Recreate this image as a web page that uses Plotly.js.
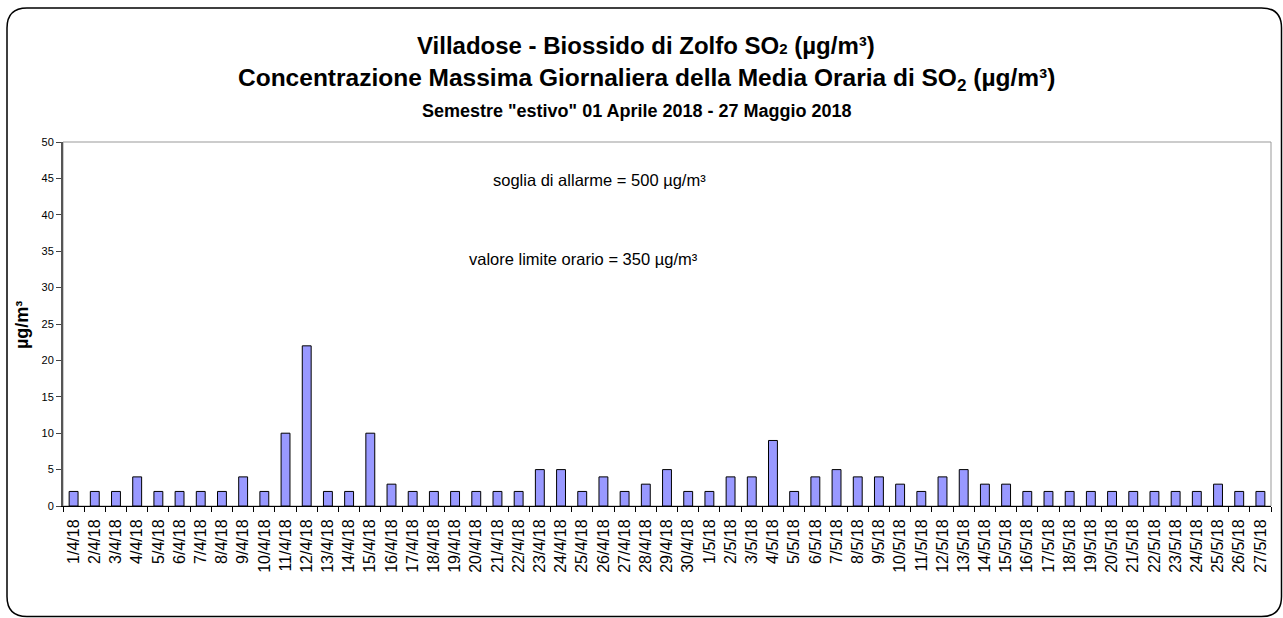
<!DOCTYPE html>
<html>
<head>
<meta charset="utf-8">
<script src="https://cdn.plot.ly/plotly-3.0.1.min.js"></script>
<style>
  html, body { margin: 0; padding: 0; background: #ffffff; }
  #chart { width: 1283px; height: 618px; }
</style>
</head>
<body>
<div id="chart"></div>
<script>
// ---- data ----
const days = [
  "1/4/18","2/4/18","3/4/18","4/4/18","5/4/18","6/4/18","7/4/18","8/4/18","9/4/18","10/4/18",
  "11/4/18","12/4/18","13/4/18","14/4/18","15/4/18","16/4/18","17/4/18","18/4/18","19/4/18","20/4/18",
  "21/4/18","22/4/18","23/4/18","24/4/18","25/4/18","26/4/18","27/4/18","28/4/18","29/4/18","30/4/18",
  "1/5/18","2/5/18","3/5/18","4/5/18","5/5/18","6/5/18","7/5/18","8/5/18","9/5/18","10/5/18",
  "11/5/18","12/5/18","13/5/18","14/5/18","15/5/18","16/5/18","17/5/18","18/5/18","19/5/18","20/5/18",
  "21/5/18","22/5/18","23/5/18","24/5/18","25/5/18","26/5/18","27/5/18"
];
const so2Max = [
  2,2,2,4,2,2,2,2,4,2,
  10,22,2,2,10,3,2,2,2,2,
  2,2,5,5,2,4,2,3,5,2,
  2,4,4,9,2,4,5,4,4,3,
  2,4,5,3,3,2,2,2,2,2,
  2,2,2,2,3,2,2
];
const yTicks = [0,5,10,15,20,25,30,35,40,45,50];
const titleLine1 = "Villadose - Biossido di Zolfo SO<span style='font-size:15px'>2</span> (µg/m³)";
const titleLine2 = "Concentrazione Massima Giornaliera della Media Oraria di SO<sub>2</sub> (µg/m³)";
const titleLine3 = "Semestre \"estivo\" 01 Aprile 2018 - 27 Maggio 2018";
const noteAlarm = "soglia di allarme = 500 µg/m³";
const noteLimit = "valore limite orario = 350 µg/m³";
const yTitle = "µg/m³";

// ---- layout geometry (pixels) ----
const W = 1283, H = 618;
const M = {l: 63, r: 12, t: 142, b: 112};
const PW = W - M.l - M.r, PH = H - M.t - M.b;
const px = x => (x - M.l) / PW;
const py = y => (H - M.b - y) / PH;

function roundRectPath(x0, y0, x1, y1, r) {
  const X = v => px(v), Y = v => py(v);
  return `M ${X(x0 + r)} ${Y(y0)} L ${X(x1 - r)} ${Y(y0)} Q ${X(x1)} ${Y(y0)} ${X(x1)} ${Y(y0 + r)} ` +
         `L ${X(x1)} ${Y(y1 - r)} Q ${X(x1)} ${Y(y1)} ${X(x1 - r)} ${Y(y1)} ` +
         `L ${X(x0 + r)} ${Y(y1)} Q ${X(x0)} ${Y(y1)} ${X(x0)} ${Y(y1 - r)} ` +
         `L ${X(x0)} ${Y(y0 + r)} Q ${X(x0)} ${Y(y0)} ${X(x0 + r)} ${Y(y0)} Z`;
}

const FONT = "Liberation Sans, Arial, sans-serif";

const trace = {
  type: "bar",
  x: days,
  y: so2Max,
  marker: { color: "#9999ff", line: { color: "#000000", width: 1 } },
  hoverinfo: "x+y"
};

const layout = {
  width: W, height: H,
  margin: M,
  paper_bgcolor: "#ffffff",
  plot_bgcolor: "#ffffff",
  showlegend: false,
  bargap: 0.58,
  font: { family: FONT, color: "#000000" },
  xaxis: {
    type: "category",
    tickangle: -90,
    tickfont: { family: FONT, size: 16, color: "#000000" },
    ticks: "outside", ticklen: 5, tickcolor: "#000000", tickwidth: 1,
    tickson: "boundaries",
    ticklabelstandoff: 6,
    showline: true, linecolor: "#000000", linewidth: 1,
    showgrid: false, zeroline: false,
    fixedrange: true
  },
  yaxis: {
    range: [0, 50],
    tickvals: yTicks,
    ticktext: yTicks.map(String),
    tickfont: { family: FONT, size: 11, color: "#000000" },
    ticks: "outside", ticklen: 5, tickcolor: "#444444", tickwidth: 1,
    showline: true, linecolor: "#555555", linewidth: 2,
    showgrid: false, zeroline: false,
    fixedrange: true
  },
  shapes: [
    { type: "rect", xref: "paper", yref: "paper", x0: 0, x1: 1, y0: 0, y1: 1,
      line: { color: "#999999", width: 1 }, layer: "below" },
    { type: "path", xref: "paper", yref: "paper",
      path: roundRectPath(7, 8, 1281.5, 616.5, 20),
      line: { color: "#000000", width: 1.5 }, layer: "below" }
  ],
  annotations: [
    { xref: "paper", yref: "paper", x: px(646), y: py(45), xanchor: "center", yanchor: "middle",
      text: "<b>" + titleLine1 + "</b>", showarrow: false, font: { family: FONT, size: 24 } },
    { xref: "paper", yref: "paper", x: px(646), y: py(80), xanchor: "center", yanchor: "middle",
      text: "<b>" + titleLine2 + "</b>", showarrow: false, font: { family: FONT, size: 24.5 } },
    { xref: "paper", yref: "paper", x: px(637), y: py(111), xanchor: "center", yanchor: "middle",
      text: "<b>" + titleLine3 + "</b>", showarrow: false, font: { family: FONT, size: 18 } },
    { xref: "paper", yref: "paper", x: px(599), y: py(180), xanchor: "center", yanchor: "middle",
      text: noteAlarm, showarrow: false, font: { family: FONT, size: 16.5 } },
    { xref: "paper", yref: "paper", x: px(583), y: py(259), xanchor: "center", yanchor: "middle",
      text: noteLimit, showarrow: false, font: { family: FONT, size: 16.5 } },
    { xref: "paper", yref: "paper", x: px(22), y: py(325), xanchor: "center", yanchor: "middle",
      text: "<b>" + yTitle + "</b>", textangle: -90, showarrow: false, font: { family: FONT, size: 18 } }
  ]
};

Plotly.newPlot("chart", [trace], layout, { displayModeBar: false, staticPlot: true });
</script>
</body>
</html>
